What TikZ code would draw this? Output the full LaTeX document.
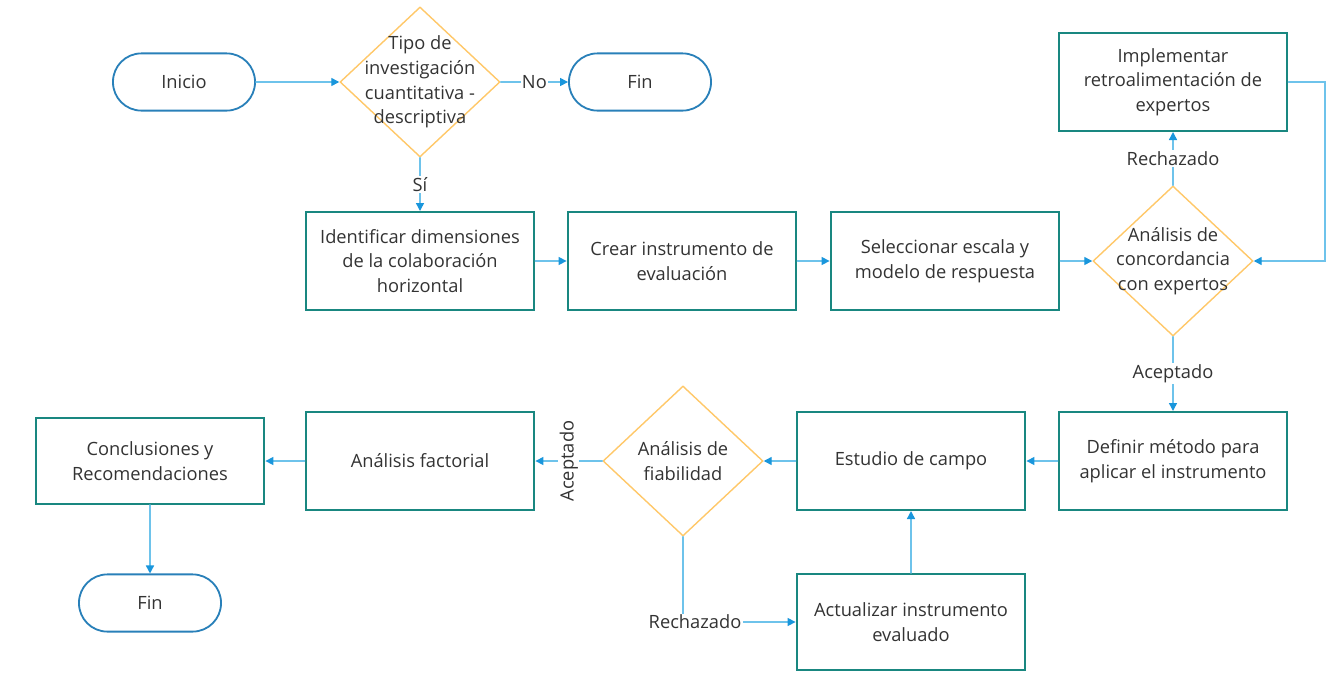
\documentclass[tikz,border=0pt]{standalone}
\usepackage{fontspec}
\setmainfont{Open Sans}
\usepackage{tikz}
\usetikzlibrary{shapes.geometric,arrows.meta}

\begin{document}
\begin{tikzpicture}
			[x=0.025cm,y=-0.025cm,line cap=round,
			font=\fontsize{13}{17.5}\selectfont,text=black!80,
			%Styles
			terminal/.style={draw=termblue,line width=1.3pt,rectangle,rounded corners=0.71cm,minimum width=3.55cm,minimum height=1.43cm},
			process/.style={draw=boxteal,line width=1.4pt,rectangle,align=center,minimum width=5.72cm,minimum height=2.45cm},
			decision/.style={draw=diamcolor,line width=1pt,diamond,inner sep=0pt,minimum width=4cm,minimum height=3.75cm,label={[align=center,text=black!80]center:#1}},
			flow/.style={draw=flowline,line width=1pt,-{Triangle[length=0.2cm,width=0.2cm,color=flowtip]}},
			tag/.style={fill=white,inner sep=1pt}
			]
			
			%Colors
			\definecolor{termblue}{RGB}{41,128,185}
			\definecolor{boxteal}{RGB}{25,135,128}
			\definecolor{diamcolor}{RGB}{255,200,105}
			\definecolor{flowline}{RGB}{110,195,235}
			\definecolor{flowtip}{RGB}{25,150,220}
			
			\useasboundingbox (0,0) rectangle (1336,672);
			
			%The graphic
			\node[terminal] (ini) at (184, 82) {Inicio};
			\node[decision={Tipo de\\investigación\\cuantitativa -\\descriptiva}] (tipo) at (420, 82) {};
			\node[terminal] (fin1) at (640, 82) {Fin};
			
			\node[process] (ident) at (420, 261) {Identificar dimensiones\\de la colaboración\\horizontal};
			\node[process] (crear) at (682, 261) {Crear instrumento de\\evaluación};
			\node[process] (escala) at (945, 261) {Seleccionar escala y\\modelo de respuesta};
			\node[decision={Análisis de\\concordancia\\con expertos}] (conc) at (1173, 261) {};
			\node[process] (impl) at (1173, 82) {Implementar\\retroalimentación de\\expertos};
			\coordinate (giro) at (1325, 82);
			
			\node[process] (metodo) at (1173, 461) {Definir método para\\aplicar el instrumento};
			\node[process] (campo) at (911, 461) {Estudio de campo};
			\node[decision={Análisis de\\fiabilidad}] (fiab) at (683, 461) {};
			\node[process] (factor) at (420, 461) {Análisis factorial};
			\node[process,minimum height=2.15cm] (concl) at (150, 461) {Conclusiones y\\Recomendaciones};
			\node[terminal] (fin2) at (150, 603) {Fin};
			\node[process,minimum height=2.4cm] (actual) at (911, 622) {Actualizar instrumento\\evaluado};
			
			\path[flow]
				(ini) edge (tipo)
				(tipo) edge node[tag] {No} (fin1)
					edge node[tag] {Sí} (ident)
				(ident) edge (crear)
				(crear) edge (escala)
				(escala) edge (conc)
				(conc) edge node[tag] {Rechazado} (impl)
					edge node[tag] {Aceptado} (metodo)
				(metodo) edge (campo)
				(campo) edge (fiab)
				(fiab) edge node[tag,rotate=90] {Aceptado} (factor)
				(factor) edge (concl)
				(concl) edge (fin2)
				(actual) edge (campo);
				
			\draw[flow] (impl) -- (giro) |- (conc);
			\draw[flow] (fiab) |- node[tag,pos=0.5,xshift=0.3cm] {Rechazado} (actual);
		\end{tikzpicture}
\end{document}
